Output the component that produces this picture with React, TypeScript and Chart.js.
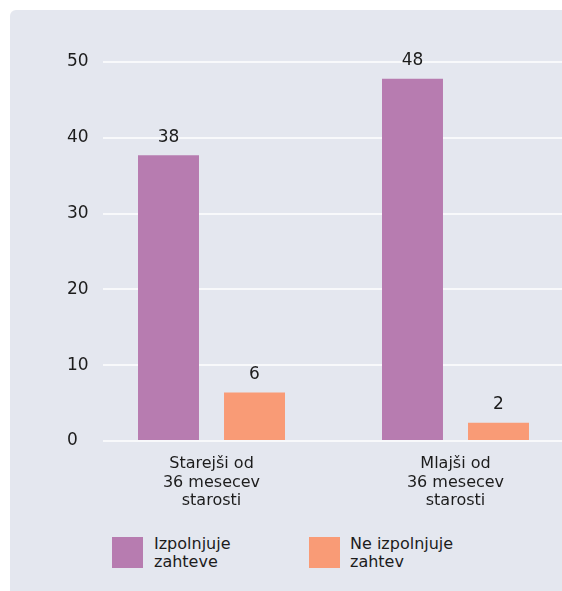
import React, { useEffect, useRef } from "react";
import { Chart, registerables } from "chart.js";

Chart.register(...registerables);

// ---- data ----
const categoryLabels: string[][] = [
  ["Starejši od", "36 mesecev", "starosti"],
  ["Mlajši od", "36 mesecev", "starosti"],
];
const categoryPositions: number[] = [0, 1];
const seriesNames: string[][] = [
  ["Izpolnjuje", "zahteve"],
  ["Ne izpolnjuje", "zahtev"],
];
const meetsValues: number[] = [37.7, 47.8];
const failsValues: number[] = [6.4, 2.4];
const yTicks: number[] = [0, 10, 20, 30, 40, 50];
const seriesColors: string[] = ["#b77cb0", "#f99b76"];

const FONT = "'DejaVu Sans', sans-serif";
const TEXT = "#1c1c1c";

const valueLabels = {
  id: "valueLabels",
  afterDatasetsDraw(chart: any) {
    const ctx = chart.ctx;
    ctx.save();
    ctx.font = `17px ${FONT}`;
    ctx.fillStyle = TEXT;
    ctx.textAlign = "center";
    ctx.textBaseline = "alphabetic";
    chart.data.datasets.forEach((ds: any, di: number) => {
      const meta = chart.getDatasetMeta(di);
      meta.data.forEach((el: any, i: number) => {
        const v = ds.data[i].y;
        ctx.fillText(String(Math.round(v)), el.x, el.y - 13.5);
      });
    });
    ctx.restore();
  },
};

export default function App() {
  const ref = useRef<HTMLCanvasElement | null>(null);

  useEffect(() => {
    if (!ref.current) return;
    const series = [meetsValues, failsValues];
    const chart = new Chart(ref.current, {
      type: "bar",
      data: {
        datasets: series.map((vals, si) => ({
          label: seriesNames[si].join(" "),
          data: vals.map((v, i) => ({ x: categoryPositions[i], y: v })),
          backgroundColor: seriesColors[si],
          borderWidth: 0,
          categoryPercentage: 0.705,
          barPercentage: 0.709,
        })),
      },
      options: {
        animation: false,
        responsive: false,
        devicePixelRatio: 1,
        layout: { padding: { left: 67, top: 62, right: 0, bottom: 0 } },
        plugins: { legend: { display: false }, tooltip: { enabled: false } },
        scales: {
          x: {
            type: "linear",
            offset: false,
            bounds: "data",
            min: -0.4447,
            max: 1.4365,
            grid: { display: false, offset: false },
            border: { display: false },
            afterBuildTicks: (scale: any) => {
              scale.ticks = categoryPositions.map((v) => ({ value: v }));
            },
            afterFit: (scale: any) => {
              scale.height = 79;
            },
            ticks: {
              autoSkip: false,
              includeBounds: false,
              maxRotation: 0,
              minRotation: 0,
              padding: 6,
              color: TEXT,
              font: { family: FONT, size: 16, lineHeight: 1.14 },
              callback: (value: any) => {
                const idx = categoryPositions.indexOf(Number(value));
                return idx >= 0 ? categoryLabels[idx] : "";
              },
            },
          },
          y: {
            min: yTicks[0],
            max: yTicks[yTicks.length - 1],
            afterBuildTicks: (scale: any) => {
              scale.ticks = yTicks.map((v) => ({ value: v }));
            },
            afterFit: (scale: any) => {
              scale.width = 36;
            },
            border: { display: false },
            grid: { color: "#f8f9fb", lineWidth: 2, drawTicks: false },
            ticks: {
              crossAlign: "far",
              padding: 14,
              color: TEXT,
              font: { family: FONT, size: 17 },
            },
          },
        },
      },
      plugins: [valueLabels],
    });
    return () => chart.destroy();
  }, []);

  return (
    <div>
      <div
        style={{
          position: "fixed",
          left: 10,
          top: 10,
          width: 560,
          height: 590,
          background: "#e4e7ef",
          borderRadius: 6,
        }}
      />
      <canvas
        ref={ref}
        width={562}
        height={520}
        style={{ position: "fixed", left: 0, top: 0, width: 562, height: 520 }}
      />
      {seriesNames.map((name, i) => (
        <div key={i}>
          <div
            style={{
              position: "fixed",
              left: i === 0 ? 112 : 309,
              top: 537,
              width: 31,
              height: 31,
              background: seriesColors[i],
            }}
          />
          <div
            style={{
              position: "fixed",
              left: i === 0 ? 154 : 350,
              top: 535,
              fontFamily: FONT,
              fontSize: 16,
              lineHeight: "18px",
              color: TEXT,
              whiteSpace: "nowrap",
            }}
          >
            {name.map((line, j) => (
              <div key={j}>{line}</div>
            ))}
          </div>
        </div>
      ))}
    </div>
  );
}
